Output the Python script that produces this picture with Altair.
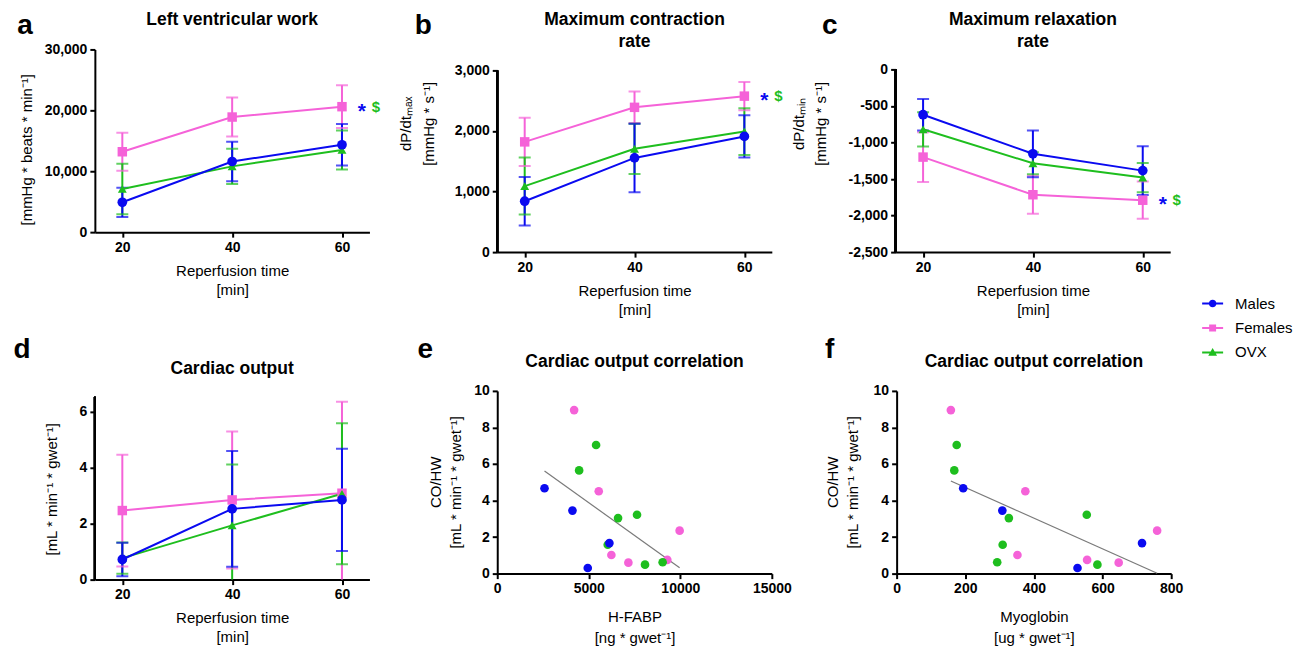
import altair as alt
import pandas as pd

FONT = "Liberation Sans, Arial, sans-serif"

# ---------------- data ----------------
groups = ["Males", "Females", "OVX"]
group_colors = ["#0A0AF0", "#F562D8", "#1EBE1E"]
times = [20, 40, 60]

# a  Left ventricular work
lvw_males = [4900, 11600, 14350]
lvw_males_sd = [2400, 3250, 3400]
lvw_females = [13200, 18900, 20600]
lvw_females_sd = [3100, 3200, 3500]
lvw_ovx = [7100, 10800, 13500]
lvw_ovx_sd = [4150, 2900, 3200]

# b  Maximum contraction rate
dpmax_males = [840, 1555, 1910]
dpmax_males_sd = [400, 565, 350]
dpmax_females = [1820, 2390, 2575]
dpmax_females_sd = [400, 260, 235]
dpmax_ovx = [1090, 1705, 1990]
dpmax_ovx_sd = [470, 415, 385]

# c  Maximum relaxation rate
dpmin_males = [-620, -1155, -1385]
dpmin_males_sd = [215, 320, 335]
dpmin_females = [-1200, -1715, -1790]
dpmin_females_sd = [340, 260, 255]
dpmin_ovx = [-820, -1285, -1480]
dpmin_ovx_sd = [235, 150, 200]

# d  Cardiac output
co_males = [0.72, 2.53, 2.85]
co_males_sd = [0.60, 2.07, 1.83]
co_females = [2.47, 2.85, 3.09]
co_females_sd = [2.00, 2.45, 3.27]
co_ovx = [0.77, 1.94, 3.07]
co_ovx_sd = [0.56, 2.18, 2.52]

# e / f  correlations (one entry per heart)
corr_group = ["Females"] * 6 + ["OVX"] * 7 + ["Males"] * 4
corr_co = [8.95, 4.51, 2.35, 1.02, 0.60, 0.75,
           7.04, 5.65, 3.04, 3.22, 1.58, 0.49, 0.62,
           4.67, 3.45, 1.67, 0.31]
corr_hfabp = [4200, 5545, 9964, 6236, 7164, 9291,
              5400, 4473, 6600, 7636, 6036, 8073, 9036,
              2582, 4109, 6127, 4945]
corr_myo = [158, 375, 759, 352, 647, 555,
            175, 168, 327, 554, 309, 585, 293,
            194, 308, 715, 527]

# ---------------- helpers ----------------
W = 275
cscale = alt.Scale(domain=groups, range=group_colors)
col = alt.Color("group:N", scale=cscale, legend=None)

SUP = "\u207b\u00b9"  # ^-1


def long_df(m, msd, f, fsd, o, osd):
    rows = []
    for g, mean, sd in [("Females", f, fsd), ("OVX", o, osd), ("Males", m, msd)]:
        for t, v, s in zip(times, mean, sd):
            rows.append({"group": g, "time": t, "mean": v, "lo": v - s, "hi": v + s})
    return pd.DataFrame(rows)


def txt(text, x, y, size, weight="bold", color="black", line_height=None, align="center"):
    kw = dict(font=FONT, fontSize=size, fontWeight=weight, color=color,
              align=align, baseline="middle", lineBreak="\n")
    if line_height:
        kw["lineHeight"] = line_height
    return alt.Chart(pd.DataFrame({"t": [text]})).mark_text(**kw).encode(
        x=alt.value(x), y=alt.value(y), text="t:N")


shape_paths = {
    "Males": "M-1,-0.1H1V0.1H-1Z M0.36,0A0.36,0.36 0 1,1 -0.36,0A0.36,0.36 0 1,1 0.36,0Z",
    "Females": "M-1,-0.1H1V0.1H-1Z M-0.33,-0.33H0.33V0.33H-0.33Z",
    "OVX": "M-1,-0.1H1V0.1H-1Z M0,-0.42L0.42,0.32H-0.42Z",
}
marker_shapes = {"Males": ("circle", 95), "Females": ("square", 90), "OVX": ("triangle-up", 80)}

LETTER = 28


def line_panel(df, height, ydom, axis_range, yvals, ytitle, title_x, title_y_pos, lh,
               title, letter, letter_xy, title_top=-29, star_y=None, neg=False,
               with_legend=False):
    xenc = alt.X("time:Q", scale=alt.Scale(domain=[15, 65], nice=False, zero=False),
                 axis=alt.Axis(values=times, title=["Reperfusion time", "[min]"],
                               titleY=38, titleBaseline="middle", titleLineHeight=19))
    ax_kw = dict(values=yvals, title=ytitle, titleX=title_x, titleY=title_y_pos,
                 titleBaseline="middle", titleLineHeight=lh, format=",.0f",
                 domain=axis_range is None)
    if neg:
        ax_kw["labelExpr"] = "replace(format(datum.value, ',.0f'), '\u2212', '-')"
    yaxis = alt.Axis(**ax_kw)
    yscale = alt.Scale(domain=ydom, nice=False, zero=False)

    def Y(f):
        return alt.Y(f, scale=yscale, axis=yaxis)

    base = alt.Chart(df)
    layers = []
    if with_legend:
        leg = alt.Legend(orient="none", legendX=1109, legendY=244, title=None,
                         labelFont=FONT, labelFontSize=15, labelColor="black",
                         symbolSize=441, symbolStrokeWidth=0, symbolOpacity=1,
                         rowPadding=5.5, labelOffset=12, padding=0)
        legend_layer = base.mark_point(filled=True, size=441, opacity=0).encode(
            x=xenc, y=Y("mean:Q"),
            color=alt.Color("group:N", scale=cscale, legend=leg),
            shape=alt.Shape("group:N",
                            scale=alt.Scale(domain=groups,
                                            range=[shape_paths[g] for g in groups]),
                            legend=leg))
        layers.append(legend_layer)
    if axis_range is not None:
        # y-axis line that stops at the last tick (scale extends a little higher)
        layers.append(base.mark_rule(color="black", strokeWidth=2).encode(
            x=alt.value(0), y=alt.datum(axis_range[0], scale=yscale, axis=yaxis),
            y2=alt.datum(axis_range[1])))
    rules = base.mark_rule(strokeWidth=2, clip=True).encode(
        x=xenc, y=Y("lo:Q"), y2="hi:Q", color=col)
    caps = base.transform_fold(["lo", "hi"], as_=["k", "v"]).mark_tick(
        orient="horizontal", size=12, thickness=2, clip=True).encode(
        x=xenc, y=Y("v:Q"), color=col)
    lines = base.mark_line(strokeWidth=2).encode(x=xenc, y=Y("mean:Q"), color=col)
    layers += [rules, caps, lines]
    for g in ["Females", "OVX", "Males"]:
        shp, sz = marker_shapes[g]
        layers.append(base.transform_filter(alt.datum.group == g).mark_point(
            shape=shp, filled=True, size=sz, opacity=1).encode(
            x=xenc, y=Y("mean:Q"), color=col))
    if star_y is not None:
        sdf = pd.DataFrame({"time": [60, 60], "mean": [star_y, star_y],
                            "t": ["*", "$"], "group": ["Males", "OVX"]})
        layers.append(alt.Chart(sdf).transform_filter(alt.datum.t == "*").mark_text(
            font=FONT, fontSize=21, fontWeight="bold", dx=20, dy=5).encode(
            x=xenc, y=Y("mean:Q"), text="t:N", color=col))
        layers.append(alt.Chart(sdf).transform_filter(alt.datum.t == "$").mark_text(
            font=FONT, fontSize=15, fontWeight="bold", dx=34, dy=0).encode(
            x=xenc, y=Y("mean:Q"), text="t:N", color=col))
    layers += [txt(title, W / 2, title_top, 17.5, line_height=22),
               txt(letter, letter_xy[0], letter_xy[1], LETTER)]
    return alt.layer(*layers).properties(width=W, height=height)


def scatter_panel(xfield, xdom, xvals, xtitle, title_x, letter, letter_xy):
    df = pd.DataFrame({"group": corr_group, "co": corr_co,
                       "hfabp": corr_hfabp, "myo": corr_myo})
    xenc = alt.X(f"{xfield}:Q", scale=alt.Scale(domain=xdom, nice=False),
                 axis=alt.Axis(values=xvals, format="d", title=xtitle,
                               titleY=43, titleBaseline="middle", titleLineHeight=21))
    yenc = alt.Y("co:Q", scale=alt.Scale(domain=[0, 10], nice=False),
                 axis=alt.Axis(values=[0, 2, 4, 6, 8, 10],
                               title=["CO/HW", "[mL * min" + SUP + " * gwet" + SUP + "]"],
                               titleX=title_x, titleY=91, titleBaseline="middle",
                               titleLineHeight=20))
    base = alt.Chart(df)
    reg = base.transform_regression(xfield, "co").mark_line(
        color="#7a7a7a", strokeWidth=1.2).encode(x=xenc, y=yenc)
    pts = base.mark_circle(size=75, opacity=1).encode(x=xenc, y=yenc, color=col)
    return alt.layer(reg, pts,
                     txt("Cardiac output correlation", W / 2, -29, 17.5),
                     txt(letter, letter_xy[0], letter_xy[1], LETTER)).properties(width=W, height=183)


# ---------------- panels ----------------
# row 1: all plot areas start at the same top; b and c have a little head-room
pa = line_panel(long_df(lvw_males, lvw_males_sd, lvw_females, lvw_females_sd, lvw_ovx, lvw_ovx_sd),
                183, [0, 30000], None, [0, 10000, 20000, 30000],
                "[mmHg * beats * min" + SUP + "]", -68, 100, 20,
                "Left ventricular work", "a", (-70, -23),
                star_y=lvw_females[2], with_legend=True)
pb = line_panel(long_df(dpmax_males, dpmax_males_sd, dpmax_females, dpmax_females_sd, dpmax_ovx, dpmax_ovx_sd),
                203, [0, 3346], (0, 3000), [0, 1000, 2000, 3000],
                ["dP/dt\u2098\u2090\u2093", "[mmHg * s" + SUP + "]"], -92, 74, 23,
                "Maximum contraction\nrate", "b", (-74, -23), star_y=dpmax_females[2])
pc = line_panel(long_df(dpmin_males, dpmin_males_sd, dpmin_females, dpmin_females_sd, dpmin_ovx, dpmin_ovx_sd),
                203, [-2500, 273], (-2500, 0), [-2500, -2000, -1500, -1000, -500, 0],
                ["dP/dt\u2098\u1d62\u2099", "[mmHg * s" + SUP + "]"], -97, 74, 22,
                "Maximum relaxation\nrate", "c", (-66, -23), star_y=dpmin_females[2], neg=True)
pd_ = line_panel(long_df(co_males, co_males_sd, co_females, co_females_sd, co_ovx, co_ovx_sd),
                 189, [0, 6.75], (0, 6.54), [0, 2, 4, 6],
                 "[mL * min" + SUP + " * gwet" + SUP + "]", -43, 98, 20,
                 "Cardiac output", "d", (-73, -41), title_top=-22)
pe = scatter_panel("hfabp", [0, 15000], [0, 5000, 10000, 15000],
                   ["H-FABP", "[ng * gwet" + SUP + "]"], -62, "e", (-72, -41))
pf = scatter_panel("myo", [0, 800], [0, 200, 400, 600, 800],
                   ["Myoglobin", "[ug * gwet" + SUP + "]"], -64, "f", (-67, -41))

row1 = alt.hconcat(alt.hconcat(pa, pb, spacing=17), pc, spacing=8)
row2 = alt.hconcat(alt.hconcat(pd_, pe, spacing=48), pf, spacing=33)

chart = alt.vconcat(row1, row2, spacing=19).properties(
    padding={"left": 5, "top": 3, "right": 5, "bottom": 2}
).configure_view(stroke=None).configure_axis(
    grid=False, domainColor="black", domainWidth=2, tickColor="black", tickWidth=2,
    tickSize=5, labelColor="black", labelFont=FONT, labelFontSize=14,
    labelFontWeight="bold", labelPadding=3, labelFlush=False, labelOverlap=False,
    titleColor="black", titleFont=FONT, titleFontSize=15, titleFontWeight="normal"
)

chart.save("out.html", embed_options={"renderer": "svg", "actions": False})
